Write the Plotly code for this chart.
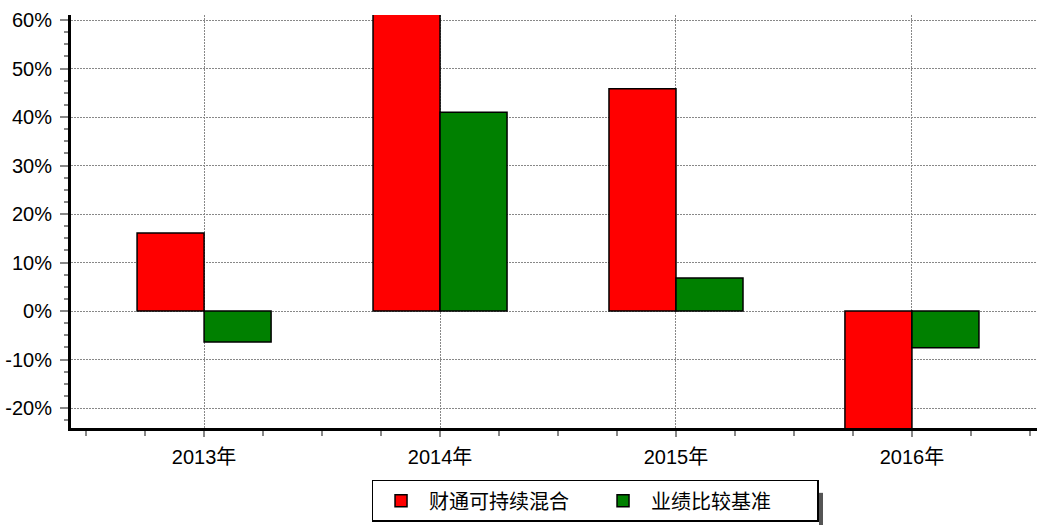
import plotly.graph_objects as go

years = ["2013年", "2014年", "2015年", "2016年"]
fund = [16.1, 64.0, 45.8, -26.0]
bench = [-6.4, 41.0, 6.8, -7.6]
fund_name = "财通可持续混合"
bench_name = "业绩比较基准"
y_ticks = [-20, -10, 0, 10, 20, 30, 40, 50, 60]

xpos = list(range(len(years)))
font_main = "Liberation Sans, Arial, Noto Sans CJK SC, sans-serif"
grid_dash = "2px,1px"

fig = go.Figure()
fig.add_trace(go.Bar(x=xpos, y=fund, name=fund_name, marker=dict(color="#ff0000", line=dict(color="black", width=1.5))))
fig.add_trace(go.Bar(x=xpos, y=bench, name=bench_name, marker=dict(color="#008000", line=dict(color="black", width=1.5))))

fig.update_layout(
    width=1037, height=525,
    margin=dict(l=71, r=0, t=15, b=97, autoexpand=False),
    paper_bgcolor="white", plot_bgcolor="white",
    barmode="group", bargap=0.432, bargroupgap=0,
    font=dict(family=font_main, size=20, color="black"),
    showlegend=True,
    legend=dict(orientation="h", x=0.5738, xanchor="center", xref="container",
                y=0.006, yanchor="bottom", yref="container",
                bordercolor="black", borderwidth=1.5, bgcolor="white",
                font=dict(family="Noto Sans CJK SC, sans-serif", size=20),
                itemwidth=46, entrywidth=161, entrywidthmode="pixels",
                tracegroupgap=0, traceorder="normal"),
)
# legend drop shadow (decoration)
fig.add_shape(type="rect", xref="paper", yref="paper", x0=0.7743, x1=0.7785, y0=-0.235, y1=-0.157,
              fillcolor="#555555", line=dict(width=0), layer="below")
fig.update_xaxes(
    range=[-0.564, 3.53], tickmode="array", tickvals=xpos, ticktext=years,
    automargin=False,
    showline=True, linecolor="black", linewidth=3,
    showgrid=True, gridcolor="#888888", griddash=grid_dash, gridwidth=1,
    ticks="outside", ticklen=6, tickcolor="#888888", tickwidth=1.5,
    ticklabelstandoff=3,
    minor=dict(dtick=0.25, tick0=0, ticks="outside", ticklen=5, tickcolor="#888888", showgrid=False),
    zeroline=False,
)
fig.update_yaxes(
    range=[-24.12, 61.03], tickmode="array", tickvals=y_ticks,
    ticktext=[f"{v}%" for v in y_ticks],
    automargin=False,
    showline=True, linecolor="black", linewidth=3,
    showgrid=True, gridcolor="#888888", griddash=grid_dash, gridwidth=1,
    ticks="outside", ticklen=8, tickcolor="#888888", tickwidth=1.5,
    ticklabelstandoff=4,
    minor=dict(dtick=2.5, tick0=0, ticks="outside", ticklen=4, tickcolor="#888888", showgrid=False),
    zeroline=False,
)
fig.write_html("out.html", config={"displayModeBar": False},
               post_script="document.body.style.margin='0';document.body.style.overflow='hidden';")
